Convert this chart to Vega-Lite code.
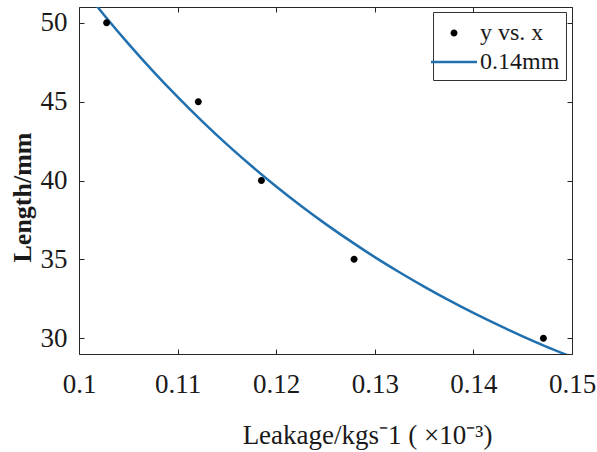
{
  "$schema": "https://vega.github.io/schema/vega-lite/v6.json",
  "width": 493,
  "height": 347,
  "autosize": {"type": "none"},
  "padding": {"left": 79, "top": 7, "right": 25, "bottom": 98},
  "background": "white",
  "config": {
    "view": {"stroke": null},
    "font": "Liberation Serif",
    "axis": {
      "grid": false,
      "domainColor": "#262626",
      "domainWidth": 1,
      "tickColor": "#262626",
      "tickWidth": 1,
      "tickSize": -5,
      "labelFlush": false,
      "labelFont": "Liberation Serif",
      "labelFontSize": 27,
      "labelColor": "#1a1a1a",
      "titleFont": "Liberation Serif",
      "titleColor": "#1a1a1a"
    }
  },
  "resolve": {"axis": {"x": "independent", "y": "independent"}},
  "datasets": {
    "curve": [
      {"x": 0.1015, "y": 51.30, "series": "0.14mm"},
      {"x": 0.1025, "y": 50.53, "series": "0.14mm"},
      {"x": 0.105, "y": 48.68, "series": "0.14mm"},
      {"x": 0.1075, "y": 46.94, "series": "0.14mm"},
      {"x": 0.11, "y": 45.30, "series": "0.14mm"},
      {"x": 0.1125, "y": 43.75, "series": "0.14mm"},
      {"x": 0.115, "y": 42.29, "series": "0.14mm"},
      {"x": 0.1175, "y": 40.92, "series": "0.14mm"},
      {"x": 0.12, "y": 39.62, "series": "0.14mm"},
      {"x": 0.1225, "y": 38.40, "series": "0.14mm"},
      {"x": 0.125, "y": 37.25, "series": "0.14mm"},
      {"x": 0.1275, "y": 36.17, "series": "0.14mm"},
      {"x": 0.13, "y": 35.14, "series": "0.14mm"},
      {"x": 0.1325, "y": 34.18, "series": "0.14mm"},
      {"x": 0.135, "y": 33.27, "series": "0.14mm"},
      {"x": 0.1375, "y": 32.41, "series": "0.14mm"},
      {"x": 0.14, "y": 31.60, "series": "0.14mm"},
      {"x": 0.1425, "y": 30.84, "series": "0.14mm"},
      {"x": 0.145, "y": 30.12, "series": "0.14mm"},
      {"x": 0.1475, "y": 29.44, "series": "0.14mm"},
      {"x": 0.15, "y": 28.81, "series": "0.14mm"}
    ],
    "pts": [
      {"x": 0.1028, "y": 50, "series": "y vs. x"},
      {"x": 0.1121, "y": 45, "series": "y vs. x"},
      {"x": 0.1185, "y": 40, "series": "y vs. x"},
      {"x": 0.1279, "y": 35, "series": "y vs. x"},
      {"x": 0.1471, "y": 30, "series": "y vs. x"}
    ]
  },
  "layer": [
    {
      "data": {"name": "curve"},
      "mark": {"type": "line", "strokeWidth": 2.5, "clip": true, "interpolate": "monotone"},
      "encoding": {
        "x": {"field": "x", "type": "quantitative", "scale": {"domain": [0.1, 0.15], "nice": false, "zero": false},
          "axis": {"values": [0.1, 0.11, 0.12, 0.13, 0.14, 0.15], "format": "~g", "labelPadding": 22,
            "title": "Leakage/kgs⁻1 ( ×10⁻³)", "titleFontSize": 27, "titleFontWeight": "normal",
            "titleX": 288, "titleY": 89, "titleBaseline": "alphabetic"}},
        "y": {"field": "y", "type": "quantitative", "scale": {"domain": [29, 51], "nice": false, "zero": false},
          "axis": {"values": [30, 35, 40, 45, 50], "labelPadding": 17,
            "title": "Length/mm", "titleFontSize": 26, "titleFontWeight": "bold",
            "titleX": -57, "titleY": 190, "titleBaseline": "middle", "titleAngle": -90, "titleAlign": "center"}},
        "color": {"field": "series", "type": "nominal",
          "scale": {"domain": ["y vs. x", "0.14mm"], "range": ["black", "#2070b0"]},
          "legend": {
            "orient": "none", "legendX": 354, "legendY": 5, "title": null,
            "strokeColor": "#333333", "fillColor": "white", "padding": 6,
            "labelFont": "Liberation Serif", "labelFontSize": 24, "labelColor": "#1a1a1a",
            "symbolSize": 900, "symbolStrokeWidth": 0, "rowPadding": 2, "labelOffset": 11
          }}
      }
    },
    {
      "data": {"name": "pts"},
      "mark": {"type": "point", "filled": true, "size": 900, "opacity": 1, "strokeWidth": 0},
      "encoding": {
        "x": {"field": "x", "type": "quantitative", "axis": null},
        "y": {"field": "y", "type": "quantitative", "axis": null},
        "color": {"field": "series", "type": "nominal"},
        "shape": {"field": "series", "type": "nominal",
          "scale": {"domain": ["y vs. x", "0.14mm"],
            "range": ["M-0.233,0A0.233,0.233,0,1,0,0.233,0A0.233,0.233,0,1,0,-0.233,0Z", "M-1.533,-0.083L1.533,-0.083L1.533,0.083L-1.533,0.083Z"]}}
      }
    },
    {
      "data": {"name": "pts"},
      "mark": {"type": "point", "opacity": 0},
      "encoding": {
        "x": {"field": "x", "type": "quantitative",
          "axis": {"orient": "top", "values": [0.1, 0.11, 0.12, 0.13, 0.14, 0.15], "labels": false, "title": null}},
        "y": {"field": "y", "type": "quantitative",
          "axis": {"orient": "right", "values": [30, 35, 40, 45, 50], "labels": false, "title": null}}
      }
    }
  ]
}
